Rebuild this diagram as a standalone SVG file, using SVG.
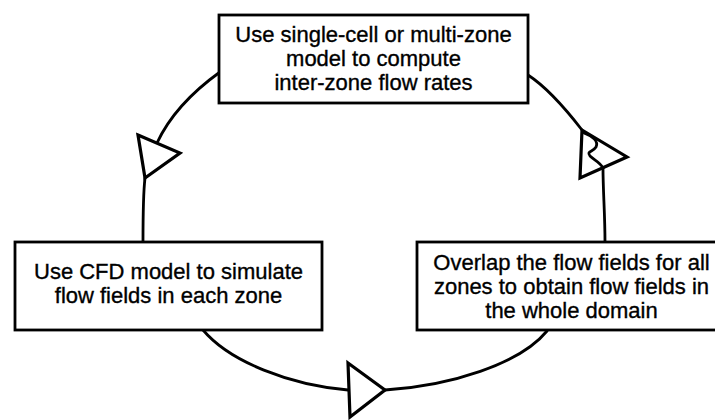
<svg xmlns="http://www.w3.org/2000/svg" width="715" height="420" viewBox="0 0 715 420">
  <style>
    .box { fill: #ffffff; stroke: #000000; stroke-width: 2.8; }
    .lbl { font-family: "Liberation Sans", Arial, sans-serif; font-size: 22px; fill: #000000; stroke: #000000; stroke-width: 0.35; text-anchor: middle; }
    .wire { fill: none; stroke: #000000; stroke-width: 2.8; stroke-linecap: round; }
    .head { fill: #ffffff; stroke: #000000; stroke-width: 3.2; stroke-linejoin: miter; }
  </style>
  <rect width="715" height="420" fill="#ffffff"/>

  <!-- cycle connectors -->
  <g id="connectors">
    <path class="wire" d="M220,72 C195,90 170,115 157,143"/>
    <path class="wire" d="M145,178 C143,195 143,220 143,242"/>
    <path class="wire" d="M203,330 C230,362 290,385 348,390"/>
    <path class="wire" d="M385,390 C450,386 520,364 547,331"/>
    <path class="wire" d="M605,242 C605,215 603,190 603,168"/>
    <path class="wire" d="M582,130 C565,108 548,88 528,75"/>
    <polygon class="head" points="138,135 180,153 145,178"/>
    <polygon class="head" points="348,363 385,390 350,417"/>
    <polygon class="head" points="582,130 627,157 580,178"/>
    <!-- wire continuing through the right-hand arrowhead -->
    <path class="wire" d="M584,133 C592,136 599,141 596,147 C593,152 586,151 590,156 C594,160 600,162 603,168"/>
  </g>

  <g id="node-zone-flow">
    <rect class="box" x="219" y="15" width="309" height="88"/>
    <text class="lbl" x="373.5" y="42">Use single-cell or multi-zone</text>
    <text class="lbl" x="373.5" y="66">model to compute</text>
    <text class="lbl" x="373.5" y="90">inter-zone flow rates</text>
  </g>

  <g id="node-cfd">
    <rect class="box" x="15" y="242" width="307" height="88"/>
    <text class="lbl" x="168.5" y="279">Use CFD model to simulate</text>
    <text class="lbl" x="168.5" y="303">flow fields in each zone</text>
  </g>

  <g id="node-overlap">
    <rect class="box" x="417" y="242" width="309" height="88"/>
    <text class="lbl" x="571.5" y="270">Overlap the flow fields for all</text>
    <text class="lbl" x="571.5" y="294">zones to obtain flow fields in</text>
    <text class="lbl" x="571.5" y="318">the whole domain</text>
  </g>
</svg>
